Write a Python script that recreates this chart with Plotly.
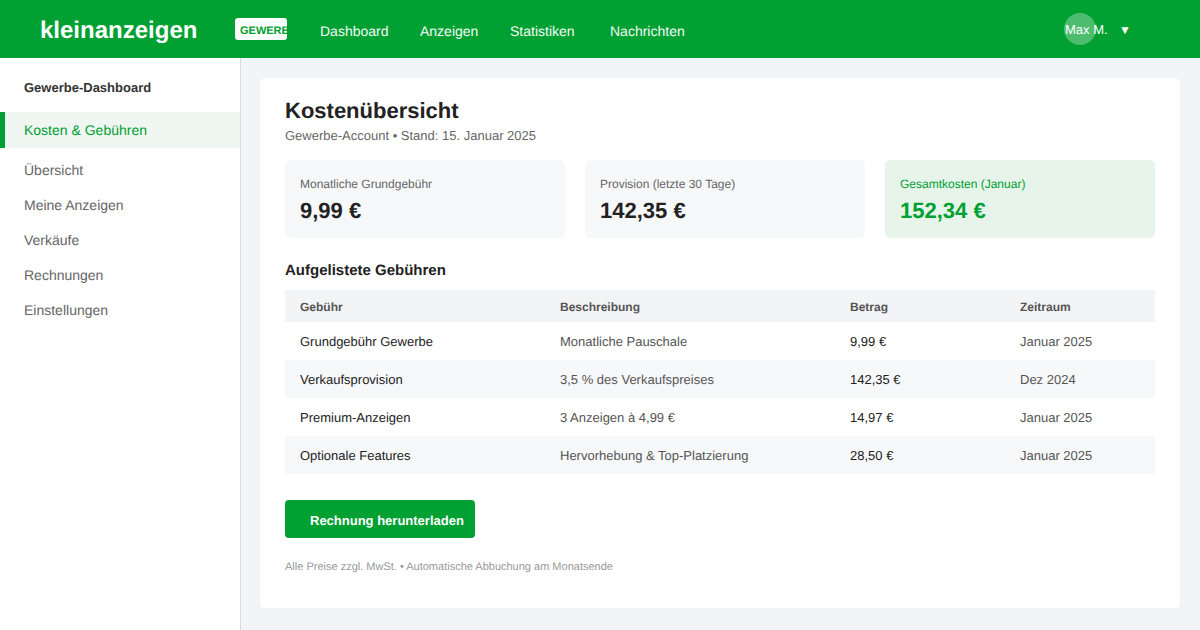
import plotly.graph_objects as go

# Inhalte
nav_items = ['Dashboard', 'Anzeigen', 'Statistiken', 'Nachrichten']
sidebar_title = 'Gewerbe-Dashboard'
sidebar_active = 'Kosten & Gebühren'
sidebar_items = ['Übersicht', 'Meine Anzeigen', 'Verkäufe', 'Rechnungen', 'Einstellungen']
card_labels = ['Monatliche Grundgebühr', 'Provision (letzte 30 Tage)', 'Gesamtkosten (Januar)']
card_values = ['9,99 €', '142,35 €', '152,34 €']
table_head = ['Gebühr', 'Beschreibung', 'Betrag', 'Zeitraum']
fee_names = ['Grundgebühr Gewerbe', 'Verkaufsprovision', 'Premium-Anzeigen', 'Optionale Features']
fee_desc = ['Monatliche Pauschale', '3,5 % des Verkaufspreises', '3 Anzeigen à 4,99 €', 'Hervorhebung & Top-Platzierung']
fee_amounts = ['9,99 €', '142,35 €', '14,97 €', '28,50 €']
fee_periods = ['Januar 2025', 'Dez 2024', 'Januar 2025', 'Januar 2025']

GREEN = '#00a032'
FONT = 'Liberation Sans'

fig = go.Figure()


def rect(x0, y0, x1, y1, color, r=0):
    if r == 0:
        fig.add_shape(type='rect', x0=x0, y0=y0, x1=x1, y1=y1, fillcolor=color, line_width=0, layer='below')
        return
    path = (f'M{x0+r},{y0} L{x1-r},{y0} Q{x1},{y0} {x1},{y0+r} L{x1},{y1-r} Q{x1},{y1} {x1-r},{y1} '
            f'L{x0+r},{y1} Q{x0},{y1} {x0},{y1-r} L{x0},{y0+r} Q{x0},{y0} {x0+r},{y0} Z')
    fig.add_shape(type='path', path=path, fillcolor=color, line_width=0, layer='below')


def label(x, y, s, size, color, bold=False, **kw):
    fig.add_annotation(x=x, y=y, text=s, showarrow=False, xanchor='left', yanchor='middle', borderpad=0, borderwidth=0,
                       font=dict(family=FONT, size=size, color=color, weight=700 if bold else 400), **kw)


# Flächen
rect(0, 0, 1200, 58, GREEN)
rect(0, 58, 240, 630, '#ffffff')
rect(240, 58, 241, 630, '#d8dbdf')
rect(0, 112, 240, 148, '#f0f7f2')
rect(0, 112, 5, 148, GREEN)
rect(260, 78, 1180, 608, '#ffffff', 6)

# Kopfzeile
label(40, 29.5, 'kleinanzeigen', 24, '#ffffff', True)
rect(235, 18, 287, 40, '#ffffff', 3)
label(240, 30, 'GEWERBE', 11, GREEN, True, width=47, align='left')
for x, s in zip([320, 420, 510, 610], nav_items):
    label(x, 31, s, 14, '#f2faf4')
fig.add_shape(type='circle', x0=1064, y0=13, x1=1096, y1=45, fillcolor='rgba(255,255,255,0.3)', line_width=0, layer='below')
label(1065, 29.5, 'Max M.', 13, '#ffffff')
label(1118.5, 30, '▼', 12, '#ffffff')

# Seitenleiste
label(24, 87.5, sidebar_title, 13, '#333333', True)
label(24, 130, sidebar_active, 14, GREEN)
for y, s in zip([169.5, 205, 240, 275, 310], sidebar_items):
    label(24, y, s, 14, '#666666')

# Titel
label(285, 110, 'Kostenübersicht', 22, '#222222', True)
label(285, 135.5, 'Gewerbe-Account • Stand: 15. Januar 2025', 13, '#666666')

# Karten
for x0, x1, bg, fg1, fg2, s, v in zip([285, 585, 885], [565, 865, 1155], ['#f7f8fa', '#f7f8fa', '#e6f4ea'],
                                      ['#666666', '#666666', GREEN], ['#222222', '#222222', GREEN],
                                      card_labels, card_values):
    rect(x0, 160, x1, 238, bg, 6)
    label(x0 + 15, 184, s, 12, fg1)
    label(x0 + 15, 210, v, 22, fg2, True)

# Tabelle
label(285, 269.5, 'Aufgelistete Gebühren', 15, '#222222', True)
rect(285, 290, 1155, 322, '#f3f4f6')
rect(285, 360, 1155, 398, '#f7f8fa')
rect(285, 436, 1155, 474, '#f7f8fa')
col_x = [300, 560, 850, 1020]
for x, s in zip(col_x, table_head):
    label(x, 307, s, 12, '#555555', True)
for y, a, b, c, d in zip([341, 379, 417, 455], fee_names, fee_desc, fee_amounts, fee_periods):
    label(col_x[0], y, a, 13, '#222222')
    label(col_x[1], y, b, 13, '#555555')
    label(col_x[2], y, c, 13, '#222222')
    label(col_x[3], y, d, 13, '#555555')

# Button und Fußnote
rect(285, 500, 475, 538, GREEN, 4)
label(310, 520.5, 'Rechnung herunterladen', 13, '#ffffff', True)
label(285, 566, 'Alle Preise zzgl. MwSt. • Automatische Abbuchung am Monatsende', 11, '#999999')

fig.update_xaxes(range=[0, 1200], visible=False, fixedrange=True)
fig.update_yaxes(range=[630, 0], visible=False, fixedrange=True)
fig.update_layout(width=1200, height=630, margin=dict(l=0, r=0, t=0, b=0), showlegend=False,
                  paper_bgcolor='#f3f4f6', plot_bgcolor='#f3f4f6')

fig.write_html('out.html', config={'displayModeBar': False},
               post_script="document.body.style.margin='0';document.body.style.overflow='hidden';"
                           "document.querySelectorAll('svg text').forEach(t=>t.style.textRendering='geometricPrecision');")
